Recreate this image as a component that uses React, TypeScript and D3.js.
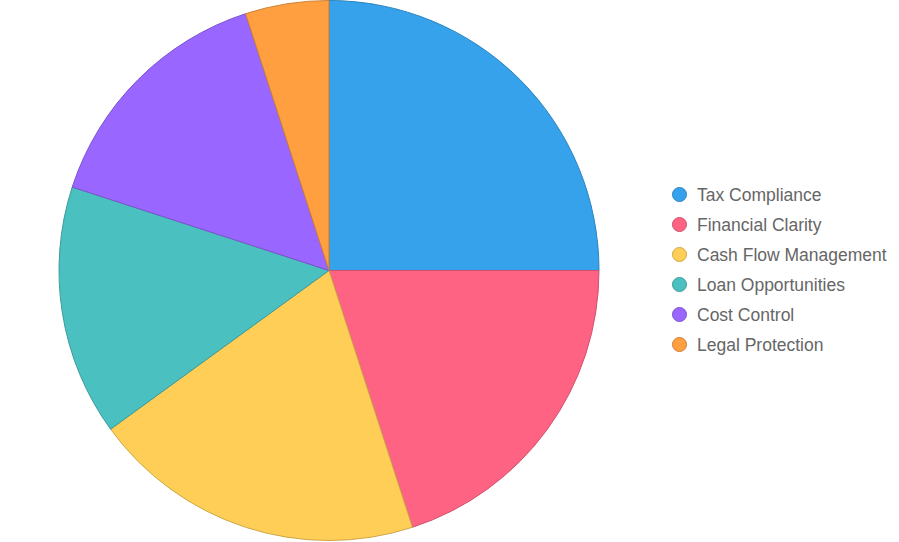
import { useEffect, useRef } from "react";
import * as d3 from "d3";

const labels = ["Tax Compliance", "Financial Clarity", "Cash Flow Management", "Loan Opportunities", "Cost Control", "Legal Protection"];
const values = [25, 20, 20, 15, 15, 5];
const colors = ["#36A2EB", "#FF6384", "#FFCE56", "#4BC0C0", "#9966FF", "#FF9F40"];

const W = 899;
const H = 542;

const App = () => {
  const ref = useRef<SVGSVGElement | null>(null);

  useEffect(() => {
    const svg = d3.select(ref.current);
    svg.selectAll("*").remove();

    const cx = 329;
    const cy = 270.5;
    const r = 270;

    const pie = d3.pie<number>().sort(null).value((d) => d);
    const arc = d3.arc<d3.PieArcDatum<number>>().innerRadius(0).outerRadius(r);

    const g = svg.append("g").attr("transform", `translate(${cx},${cy})`);
    g.selectAll("path")
      .data(pie(values))
      .join("path")
      .attr("d", arc)
      .attr("fill", (_, i) => colors[i])
      .attr("stroke", (_, i) => d3.color(colors[i])!.darker(0.6).formatHex())
      .attr("stroke-width", 1)
      .attr("stroke-linejoin", "round");

    // legend
    const y = d3.scalePoint<string>().domain(labels).range([194.5, 344.5]);
    const leg = svg.append("g");
    const row = leg
      .selectAll("g")
      .data(labels)
      .join("g")
      .attr("transform", (d) => `translate(679.5,${y(d)})`);
    row
      .append("circle")
      .attr("r", 7)
      .attr("fill", (_, i) => colors[i])
      .attr("stroke", (_, i) => d3.color(colors[i])!.darker(0.6).formatHex())
      .attr("stroke-width", 1);
    row
      .append("text")
      .attr("x", 17.5)
      .attr("dy", "0.35em")
      .attr("fill", "#666")
      .style("font-family", "'Liberation Sans', Arial, Helvetica, sans-serif")
      .style("font-size", "17.5px")
      .text((d) => d);
  }, []);

  return (
    <svg
      ref={ref}
      width={W}
      height={H}
      style={{ position: "fixed", left: 0, top: 0, background: "#fff" }}
    />
  );
};

export default App;
